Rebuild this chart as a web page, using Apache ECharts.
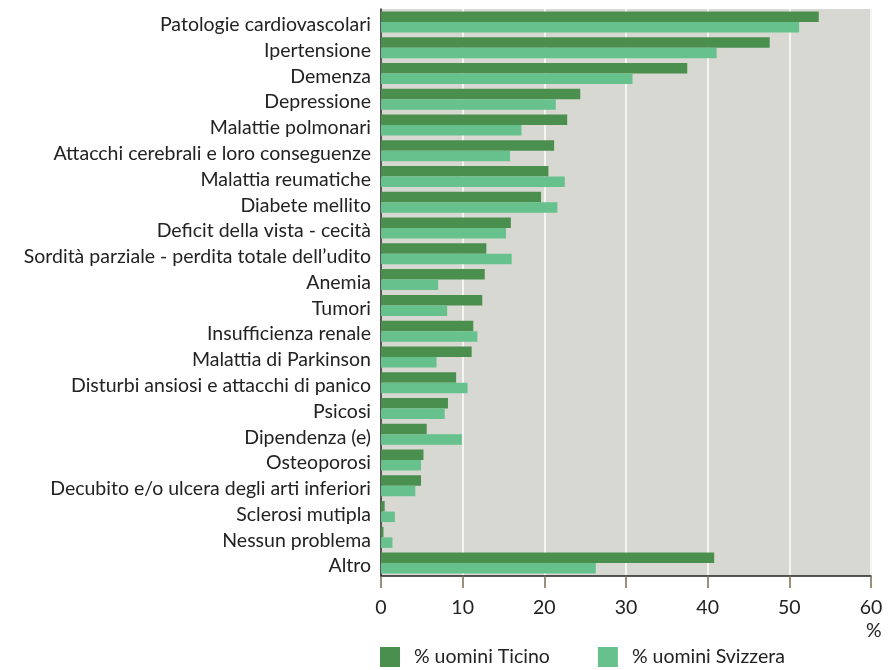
<!DOCTYPE html>
<html>
<head>
<meta charset="utf-8">
<script src="https://cdn.jsdelivr.net/npm/echarts@6/dist/echarts.min.js"></script>
<style>html,body{margin:0;padding:0;background:#fff}#c{width:894px;height:670px}</style>
</head>
<body>
<div id="c"></div>
<script>
const categories = [
  "Patologie cardiovascolari","Ipertensione","Demenza","Depressione","Malattie polmonari",
  "Attacchi cerebrali e loro conseguenze","Malattia reumatiche","Diabete mellito",
  "Deficit della vista - cecità","Sordità parziale - perdita totale dell’udito","Anemia","Tumori",
  "Insufficienza renale","Malattia di Parkinson","Disturbi ansiosi e attacchi di panico","Psicosi",
  "Dipendenza (e)","Osteoporosi","Decubito e/o ulcera degli arti inferiori","Sclerosi mutipla",
  "Nessun problema","Altro"
];
const ticino = [53.6,47.6,37.5,24.4,22.8,21.2,20.5,19.6,15.9,12.9,12.7,12.4,11.3,11.1,9.2,8.2,5.6,5.2,4.9,0.45,0.3,40.8];
const svizzera = [51.2,41.1,30.8,21.4,17.2,15.8,22.5,21.6,15.3,16.0,7.0,8.1,11.8,6.8,10.6,7.8,9.9,4.9,4.2,1.7,1.4,26.3];
const seriesNames = ["% uomini Ticino","% uomini Svizzera"];
const xTicks = [0,10,20,30,40,50,60];

const FONT = "Lato, 'DejaVu Sans', sans-serif";
const chart = echarts.init(document.getElementById('c'), null, {renderer:'canvas'});
chart.setOption({
  animation:false,
  textStyle:{fontFamily:FONT},
  grid:{left:381,right:23,top:9,bottom:94,show:true,backgroundColor:'#d8d8d3',borderWidth:0},
  legend:{
    data:seriesNames,left:380,top:647,padding:0,itemWidth:20,itemHeight:20,itemGap:48,icon:'rect',
    textStyle:{fontSize:19.5,color:'#222',fontFamily:FONT,padding:[0,0,0,9]}
  },
  xAxis:{
    type:'value',min:xTicks[0],max:xTicks[xTicks.length-1],interval:10,
    axisLine:{show:true,lineStyle:{color:'#222',width:1.5}},
    axisTick:{show:true,length:12,lineStyle:{color:'#7a6a55',width:1.5}},
    axisLabel:{fontSize:19.5,color:'#222',margin:22},
    splitLine:{show:true,lineStyle:{color:'#f4f4f2',width:2}}
  },
  yAxis:{
    type:'category',data:categories,inverse:true,
    axisLine:{show:true,lineStyle:{color:'#222',width:1.5}},
    axisTick:{show:false},
    axisLabel:{interval:0,hideOverlap:false,fontSize:19.5,color:'#222',margin:10,verticalAlign:'top',lineHeight:6},
    splitLine:{show:false}
  },
  graphic:[{type:'text',left:866,top:621,style:{text:'%',fontSize:19.5,fill:'#222',fontFamily:FONT}}],
  series:[
    {name:seriesNames[0],type:'bar',data:ticino,barWidth:10.5,barGap:'0%',itemStyle:{color:'#4a8f4e'}},
    {name:seriesNames[1],type:'bar',data:svizzera,barWidth:10.5,barGap:'0%',itemStyle:{color:'#66c18c'}}
  ]
});
</script>
</body>
</html>
